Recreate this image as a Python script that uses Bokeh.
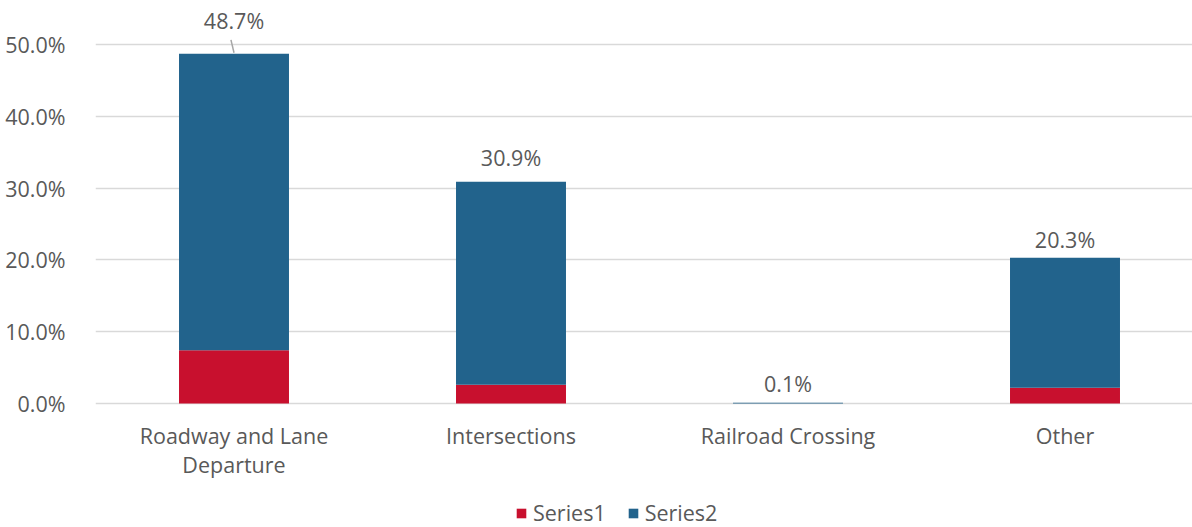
from bokeh.plotting import figure
from bokeh.models import (Range1d, FixedTicker, PrintfTickFormatter, Legend,
                          LegendItem, ColumnDataSource)
from bokeh.core.properties import value
from bokeh.embed import file_html
from bokeh.resources import INLINE

# ---- data ----
categories = ["Roadway and Lane\nDeparture", "Intersections", "Railroad Crossing", "Other"]
series1 = [7.4, 2.6, 0.0, 2.2]
series2 = [41.3, 28.3, 0.1, 18.1]
totals = [48.7, 30.9, 0.1, 20.3]
total_labels = ["48.7%", "30.9%", "0.1%", "20.3%"]
y_ticks = [0, 10, 20, 30, 40, 50]
series_names = ["Series1", "Series2"]

# ---- style ----
RED = "#C8102E"
BLUE = "#22638C"
TXT = "#595959"
GRID = "#D9D9D9"
FONT = "Open Sans"
FS = "21.5px"
label_offsets = [-33, -24, -19, -18]

W, H = 1192, 527
LEFT, TOP = 95, 8
PX_PER_UNIT = 7.18          # pixels per 1 percentage point
FRAME_H = H - TOP
FRAME_W = W - LEFT
ZERO_FROM_TOP = 395

xs = list(range(len(categories)))
src = ColumnDataSource(dict(x=xs, s1=series1, s2=series2))

p = figure(width=W, height=H,
           output_backend="svg", toolbar_location=None,
           x_range=Range1d(-0.5, -0.5 + FRAME_W / 277),
           y_range=Range1d(-(FRAME_H - ZERO_FROM_TOP) / PX_PER_UNIT,
                           ZERO_FROM_TOP / PX_PER_UNIT),
           min_border_left=LEFT, min_border_right=0, min_border_top=TOP,
           min_border_bottom=0)
p.outline_line_color = None
p.background_fill_color = "white"
p.border_fill_color = "white"

rs = p.vbar_stack(["s1", "s2"], x="x", width=0.397, color=[RED, BLUE],
                  line_color=None, source=src)

# axes
p.xgrid.visible = False
p.ygrid.grid_line_color = GRID
p.ygrid.grid_line_width = 1.3
p.yaxis.ticker = FixedTicker(ticks=y_ticks)
p.yaxis.formatter = PrintfTickFormatter(format="%.1f%%")
p.xaxis.ticker = FixedTicker(ticks=xs)
p.xaxis.major_label_overrides = {i: c for i, c in zip(xs, categories)}
p.xaxis.fixed_location = 0
for ax in (p.xaxis[0], p.yaxis[0]):
    ax.axis_line_color = None
    ax.major_tick_line_color = None
    ax.minor_tick_line_color = None
    ax.major_label_text_font = FONT
    ax.major_label_text_font_size = FS
    ax.major_label_text_color = TXT
p.yaxis.major_label_standoff = 24
p.xaxis.major_label_standoff = 11
p.xaxis.major_label_text_line_height = 1.03

# data labels
lsrc = ColumnDataSource(dict(x=xs, y=totals, t=total_labels, off=label_offsets))
p.text(x="x", y="y", text="t", y_offset="off", source=lsrc,
       text_align="center", text_baseline="alphabetic",
       text_font=value(FONT), text_font_size=FS, text_color=TXT)

# leader line for the first label
p.segment(x0=[xs[0] - 0.011], y0=[totals[0] + 1.95],
          x1=[xs[0]], y1=[totals[0] + 0.15],
          line_color="#A6A6A6", line_width=1.5)

legend = Legend(items=[LegendItem(label=n, renderers=[r]) for n, r in zip(series_names, rs)],
                orientation="horizontal", location=(420, 0),
                padding=0, margin=0, border_line_color=None,
                background_fill_alpha=0, glyph_width=12, glyph_height=12,
                label_standoff=6, spacing=21,
                label_text_font=FONT, label_text_font_size=FS,
                label_text_color=TXT)
p.add_layout(legend, "center")

open("out.html", "w").write(file_html(p, INLINE))
